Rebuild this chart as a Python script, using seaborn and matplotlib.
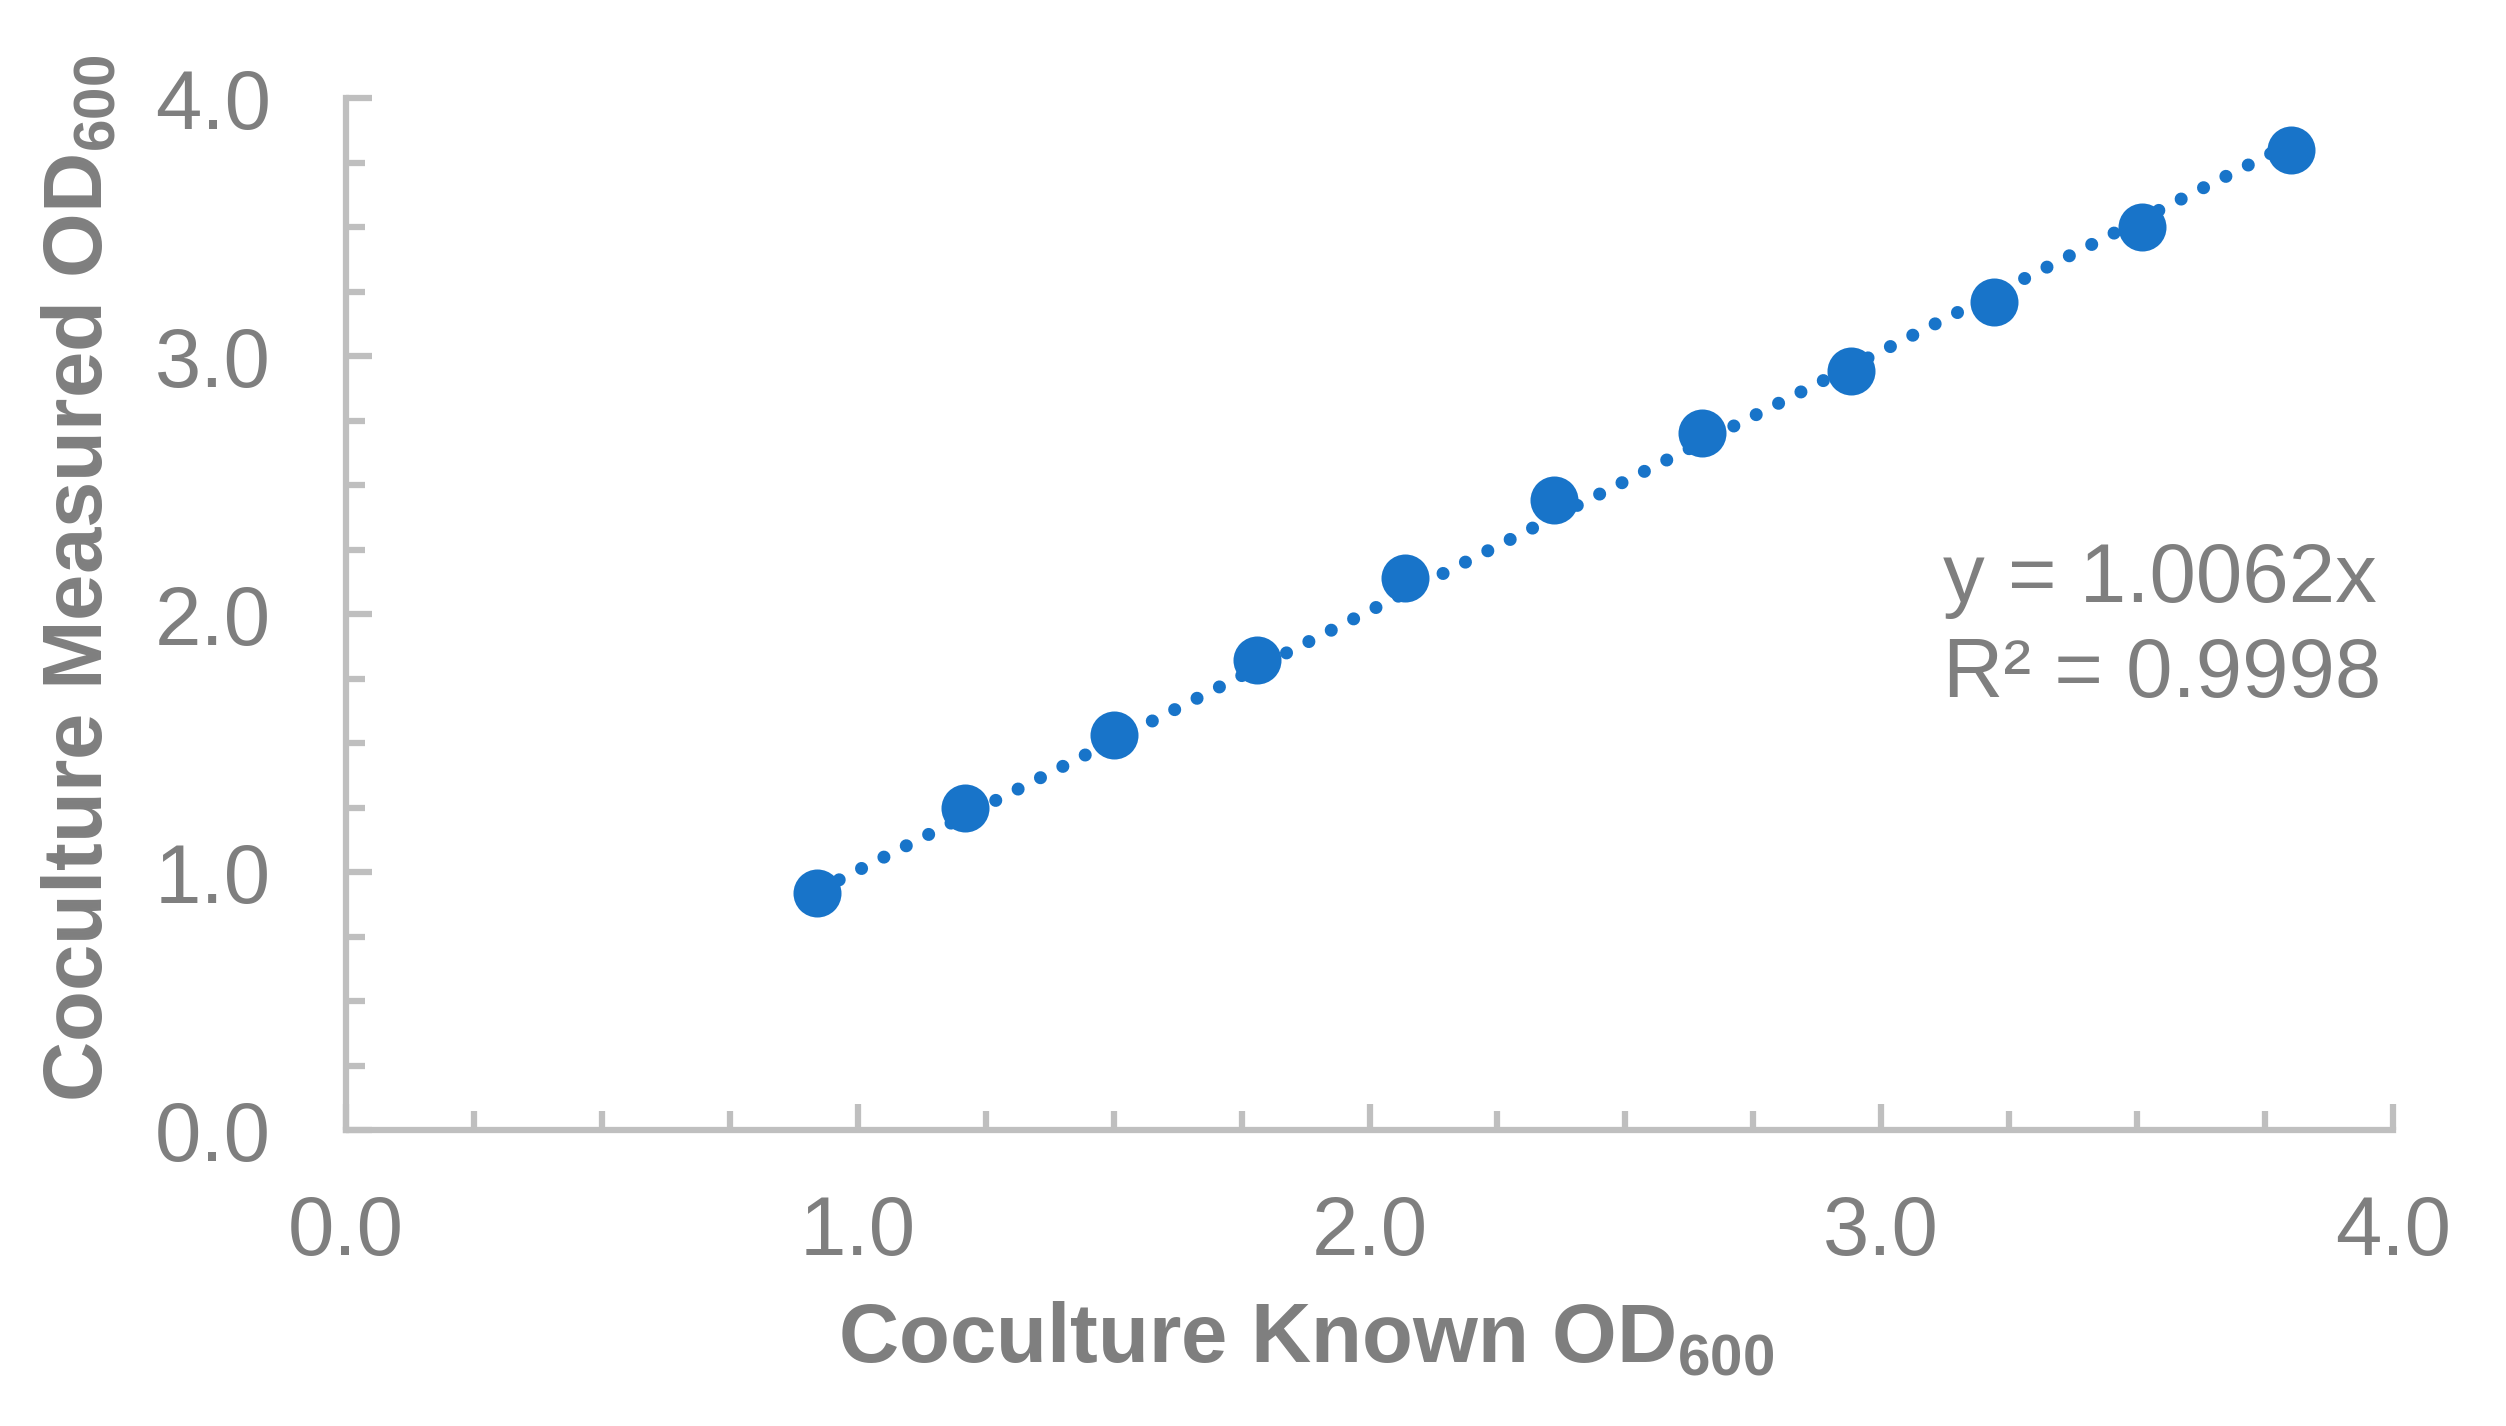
import numpy as np
import pandas as pd
import matplotlib
matplotlib.use('Agg')
import matplotlib.pyplot as plt
from matplotlib.ticker import MultipleLocator, FormatStrFormatter
import seaborn as sns

# values
known_od = [0.92, 1.21, 1.50, 1.78, 2.07, 2.36, 2.65, 2.94, 3.22, 3.51, 3.80]
measured_od = [0.92, 1.25, 1.53, 1.82, 2.14, 2.44, 2.70, 2.94, 3.21, 3.50, 3.80]
slope = 1.0062
r_squared = 0.9998

grey = '#7F7F7F'
axis_grey = '#BFBFBF'
blue = '#1874C9'

sns.set_style('white')
plt.rcParams['font.family'] = ['Liberation Sans', 'DejaVu Sans']
plt.rcParams['mathtext.fontset'] = 'custom'
plt.rcParams['mathtext.rm'] = 'Liberation Sans'
plt.rcParams['mathtext.bf'] = 'Liberation Sans:bold'

df = pd.DataFrame({'known': known_od, 'measured': measured_od})

fig = plt.figure(figsize=(25.06, 14.26), dpi=100)
ax = fig.add_axes([346 / 2506, 1 - 1130 / 1426, 2047 / 2506, 1032 / 1426])

# linear trendline through the origin, over the data range
trend = pd.DataFrame({'known': [df.known.min(), df.known.max()]})
trend['fit'] = slope * trend['known']
sns.lineplot(data=trend, x='known', y='fit', ax=ax, color=blue, linewidth=9.4,
             linestyle=(0, (0.001, 1.92)), dash_capstyle='round', zorder=2)

sns.scatterplot(data=df, x='known', y='measured', ax=ax, color=blue, s=1195,
                linewidth=0, zorder=3)

ax.set_xlim(0, 4)
ax.set_ylim(0, 4)
for axis in (ax.xaxis, ax.yaxis):
    axis.set_major_locator(MultipleLocator(1))
    axis.set_minor_locator(MultipleLocator(0.25))
    axis.set_major_formatter(FormatStrFormatter('%.1f'))

ax.tick_params(which='both', direction='in', color=axis_grey, width=4.5,
               labelcolor=grey, labelsize=60, bottom=True, left=True)
ax.tick_params(which='major', length=19)
ax.tick_params(which='minor', length=14)
ax.tick_params(axis='x', which='major', pad=46)
ax.tick_params(axis='y', which='major', pad=54)

for side in ['top', 'right']:
    ax.spines[side].set_visible(False)
for side in ['left', 'bottom']:
    ax.spines[side].set_color(axis_grey)
    ax.spines[side].set_linewidth(4.5)

ax.set_xlabel(r'Coculture Known OD$_{\mathbf{600}}$', fontsize=60,
              fontweight='bold', color=grey, va='baseline')
ax.xaxis.set_label_coords(0.4688, -233 / 1032)
ax.set_ylabel(r'Coculture Measured OD$_{\mathbf{600}}$', fontsize=60,
              fontweight='bold', color=grey, va='baseline')
ax.yaxis.set_label_coords((103 - 346) / 2047, 0.535)

ax.text(3.121, 2.047, f'y = {slope:.4f}x', fontsize=60, color=grey,
        ha='left', va='baseline')
ax.text(3.121, 1.678, f'R² = {r_squared:.4f}', fontsize=60, color=grey,
        ha='left', va='baseline')

fig.savefig('out.png', dpi=100, facecolor='white')
